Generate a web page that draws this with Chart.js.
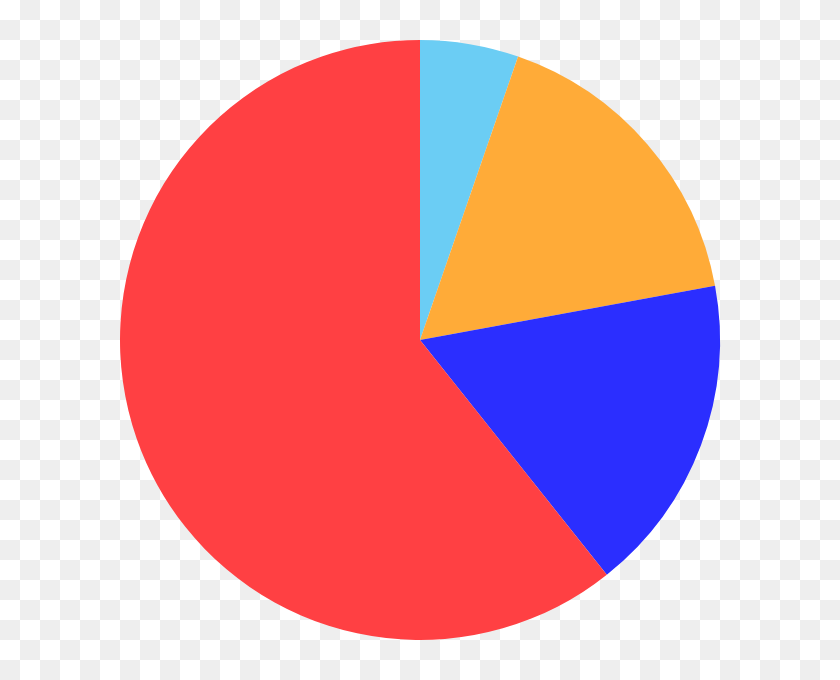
<!DOCTYPE html>
<html>
<head>
<meta charset="utf-8">
<script src="https://cdn.jsdelivr.net/npm/chart.js@4"></script>
<style>
  html, body {
    margin: 0;
    padding: 0;
  }
  body {
    width: 840px;
    height: 680px;
    /* transparent-style checker background */
    background: repeating-conic-gradient(#eeeeee 0 25%, #ffffff 0 50%) 0 0 / 40px 40px;
  }
  #wrap {
    position: relative;
    width: 840px;
    height: 680px;
  }
</style>
</head>
<body>
<div id="wrap"><canvas id="pieChart"></canvas></div>
<script>
// Slices, clockwise from the top
const labels = ['A', 'B', 'C', 'D'];
const values = [5.3, 16.8, 17.2, 60.7];
const colors = ['#6bcdf4', '#ffab38', '#2b2eff', '#ff4043'];

const pieData = {
  labels: labels,
  datasets: [{
    data: values,
    backgroundColor: colors,
    borderWidth: 0
  }]
};

const pieConfig = {
  type: 'pie',
  data: pieData,
  options: {
    responsive: true,
    maintainAspectRatio: false,
    animation: false,
    events: [],
    layout: {
      padding: { top: 40, bottom: 40 }
    },
    plugins: {
      legend: { display: false },
      tooltip: { enabled: false }
    }
  }
};

const pieChart = new Chart(document.getElementById('pieChart'), pieConfig);
</script>
</body>
</html>
